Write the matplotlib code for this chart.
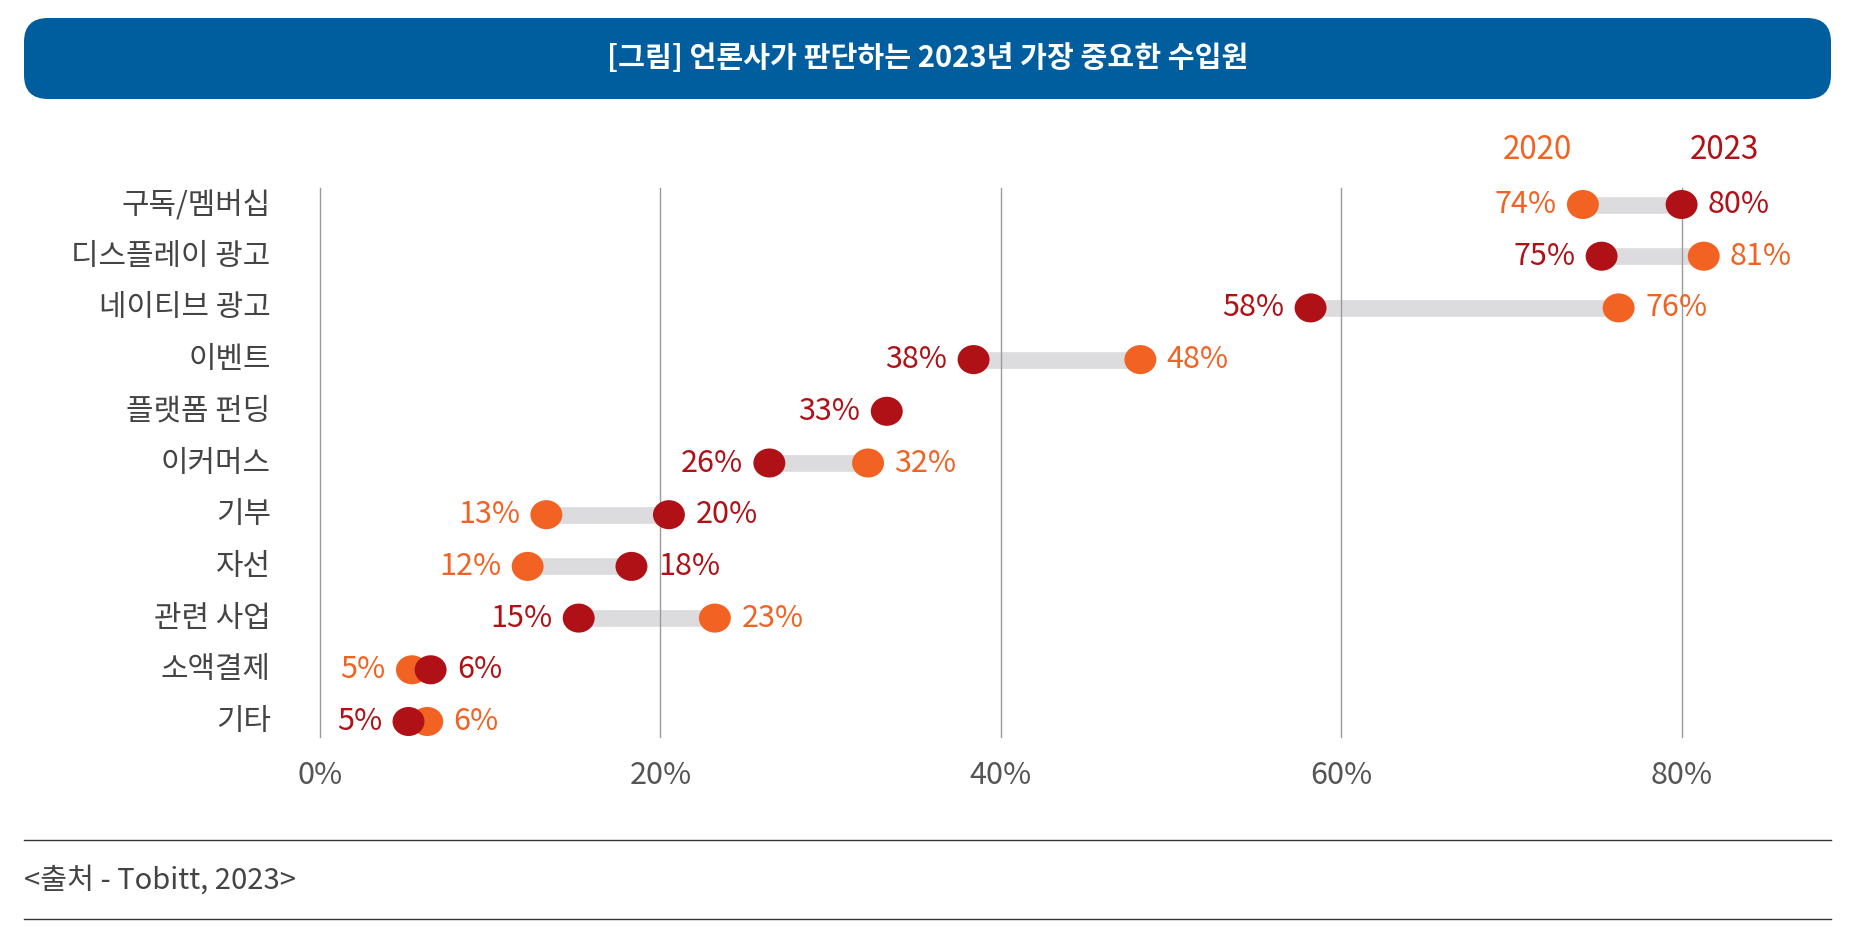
import matplotlib
matplotlib.use('Agg')
import matplotlib.pyplot as plt
from matplotlib.patches import FancyBboxPatch
from matplotlib.path import Path
from matplotlib.transforms import Affine2D
from matplotlib.lines import Line2D

plt.rcParams['font.family'] = ['Noto Sans CJK KR', 'DejaVu Sans']

categories = ['구독/멤버십', '디스플레이 광고', '네이티브 광고', '이벤트', '플랫폼 펀딩',
              '이커머스', '기부', '자선', '관련 사업', '소액결제', '기타']
values2020 = [74.2, 81.3, 76.3, 48.2, None, 32.2, 13.3, 12.2, 23.2, 5.4, 6.3]
values2023 = [80.0, 75.3, 58.2, 38.4, 33.3, 26.4, 20.5, 18.3, 15.2, 6.5, 5.2]
labels2020 = ['74%', '81%', '76%', '48%', None, '32%', '13%', '12%', '23%', '5%', '6%']
labels2023 = ['80%', '75%', '58%', '38%', '33%', '26%', '20%', '18%', '15%', '6%', '5%']
xticks = [0, 20, 40, 60, 80]
xtickLabels = ['0%', '20%', '40%', '60%', '80%']

orange = '#f26223'
red = '#b01117'
gray = '#dcdcde'
textColor = '#444444'

W, H = 1858, 939
fig = plt.figure(figsize=(W / 100, H / 100), dpi=100)
ax = fig.add_axes([0, 0, 1, 1])
ax.axis('off')

# pixel mapping: x=0 at ~320px, ~17.02px per percent; row i at 204.5 + 51.7*i px
pxPerUnit = 17.02
x0 = 320
ax.set_xlim(-x0 / pxPerUnit, (W - x0) / pxPerUnit)
ax.set_ylim((H - 204.5) / 51.7, -204.5 / 51.7)

# title bar
bar = FancyBboxPatch((24 / W, 1 - 99 / H), (1831 - 24) / W, 81 / H,
                     boxstyle='round,pad=0,rounding_size=%f' % (24 / W),
                     mutation_aspect=W / H, transform=fig.transFigure,
                     facecolor='#005e9e', edgecolor='none')
fig.add_artist(bar)
fig.text((24 + 1831) / 2 / W, 1 - 58.5 / H, '[그림] 언론사가 판단하는 2023년 가장 중요한 수입원',
         ha='center', va='center', color='white', fontsize=21, fontweight='bold')

# grid
for t, lab in zip(xticks, xtickLabels):
    ax.plot([t, t], [-0.32, 10.3], color='#9a9a9a', lw=1.0, zorder=2)
    ax.text(t, 11.05, lab, ha='center', va='center', fontsize=22, color='#555555')

ellipse = Path.unit_circle().transformed(Affine2D().scale(1.1, 1.0))

for i, cat in enumerate(categories):
    ax.text(-2.9, i, cat, ha='right', va='center', fontsize=21.5, color=textColor)
    a, b = values2020[i], values2023[i]
    pts = []
    if a is not None:
        pts.append((a, labels2020[i], orange))
    pts.append((b, labels2023[i], red))
    if a is not None:
        ax.plot([a, b], [i, i], color=gray, lw=12, solid_capstyle='butt', zorder=1)
    for x, lab, col in pts:
        ax.scatter([x], [i], s=23 ** 2, marker=ellipse, color=col,
                   edgecolors='none', zorder=4 if col == red else 3)
    xs = sorted(pts, key=lambda p: p[0])
    lx, llab, lcol = xs[0]
    ax.annotate(llab, (lx, i), xytext=(-19, 0), textcoords='offset points',
                ha='right', va='center', fontsize=22, color=lcol)
    if len(xs) > 1:
        rx, rlab, rcol = xs[-1]
        ax.annotate(rlab, (rx, i), xytext=(19, 0), textcoords='offset points',
                    ha='left', va='center', fontsize=22, color=rcol)

# series headers
ax.text(71.5, -1.05, '2020', ha='center', va='center', fontsize=22.5, color=orange)
ax.text(82.5, -1.05, '2023', ha='center', va='center', fontsize=22.5, color=red)

# footer
fig.add_artist(Line2D([24 / W, 1831 / W], [1 - 840 / H, 1 - 840 / H],
                      color='#333333', lw=1.0, transform=fig.transFigure))
fig.add_artist(Line2D([24 / W, 1831 / W], [1 - 919 / H, 1 - 919 / H],
                      color='#333333', lw=1.0, transform=fig.transFigure))
fig.text(24 / W, 1 - 881 / H, '<출처 - Tobitt, 2023>', ha='left', va='center',
         fontsize=21, color=textColor)

fig.savefig('out.png', dpi=100)
plt.close(fig)
